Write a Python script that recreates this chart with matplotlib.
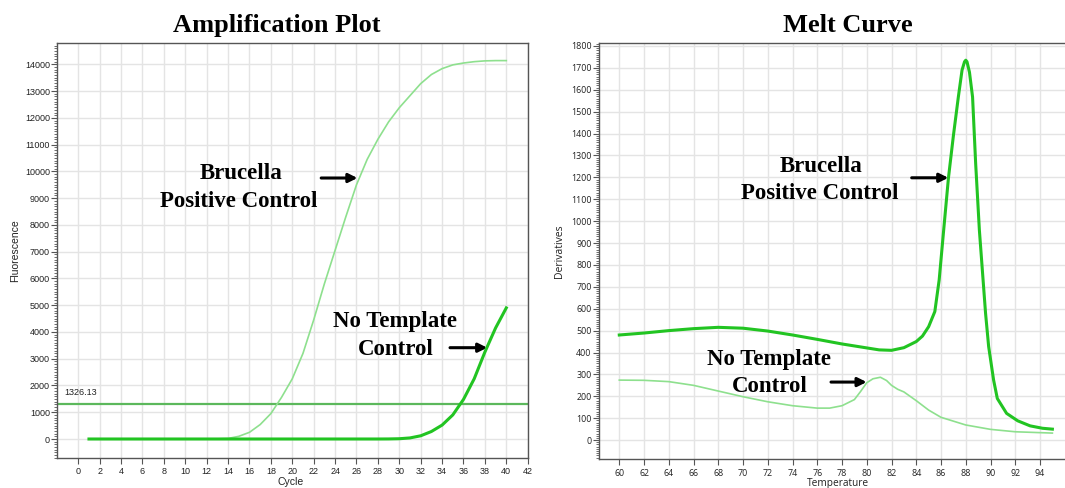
import matplotlib
matplotlib.use("Agg")
import matplotlib.pyplot as plt
from matplotlib.ticker import MultipleLocator

# ---------------- data ----------------
cycles = list(range(1, 41))
positive_amp = [0, 0, 0, 0, 0, 0, 0, 0, 0, 0, 0, 0, 5,
                20, 100, 250, 540, 950, 1560, 2250, 3200, 4450, 5800,
                7050, 8300, 9500, 10450, 11200, 11850, 12380, 12830, 13280,
                13620, 13840, 13980, 14050, 14100, 14130, 14140, 14140]
ntc_amp = [0, 0, 0, 0, 0, 0, 0, 0, 0, 0, 0, 0, 0, 0, 0, 0, 0, 0, 0, 0,
           0, 0, 0, 0, 0, 0, 0, 0, 2, 10, 40, 120, 280, 520, 900, 1480,
           2250, 3250, 4150, 4900]
threshold = 1326.13
threshold_label = "1326.13"

pos_melt_temp = [60, 62, 64, 66, 68, 70, 72, 74, 76, 78, 80, 81, 82, 83, 84,
                 84.5, 85, 85.5, 85.85, 86.2, 86.6, 87.0, 87.4, 87.7, 87.9,
                 88.0, 88.1, 88.3, 88.55, 88.8, 89.1, 89.4, 89.6, 89.85,
                 90.25, 90.55, 91.3, 92.2, 93.2, 94.2, 95.0]
pos_melt_val = [480, 489, 500, 509, 515, 511, 498, 480, 460, 439, 421, 412,
                410, 422, 450, 475, 518, 587, 731, 950, 1197, 1390, 1567,
                1690, 1728, 1735, 1728, 1680, 1567, 1263, 959, 731, 579,
                427, 274, 190, 122, 88, 65, 54, 50]
ntc_melt_temp = [60, 62, 64, 66, 68, 70, 72, 74, 76, 77, 78, 79, 79.5, 80,
                 80.5, 81.1, 81.6, 82, 82.5, 83, 83.5, 84, 85, 86, 88, 90,
                 92, 94, 95]
ntc_melt_val = [274, 273, 267, 250, 224, 198, 175, 157, 146, 146, 157, 185,
                222, 262, 280, 287, 272, 250, 232, 220, 200, 180, 137, 104,
                69, 49, 38, 34, 32]

amp_xticks = list(range(0, 43, 2))
melt_xticks = list(range(60, 95, 2))

# ---------------- style ----------------
C_THICK = "#22c422"
C_THIN = "#8ee08e"
C_THR = "#5cb85c"
GRID = "#e4e4e4"
SERIF = "Liberation Serif"

fig = plt.figure(figsize=(10.65, 4.88), dpi=100)
ax1 = fig.add_axes([57.3 / 1065, 1 - 458 / 488, (527.7 - 57.3) / 1065, (458 - 43) / 488])
ax2 = fig.add_axes([599 / 1065, 1 - 458.7 / 488, (1065 - 599) / 1065, (458.7 - 42.7) / 488])


def style(ax, fam, tsize):
    ax.grid(True, which="major", color=GRID, linewidth=1.0, zorder=0)
    ax.set_axisbelow(True)
    for s in ax.spines.values():
        s.set_color("#555555")
        s.set_linewidth(1.0)
    ax.tick_params(axis="both", which="major", direction="out", length=4.3,
                   width=0.8, color="#555555", labelsize=tsize,
                   labelcolor="#222222")
    ax.tick_params(axis="y", which="minor", direction="out", length=2.0,
                   width=0.6, color="#555555")
    ax.tick_params(axis="y", which="major", pad=1)
    ax.tick_params(axis="x", which="major", pad=2.5)
    for lab in ax.get_xticklabels() + ax.get_yticklabels():
        lab.set_family(fam)


# ---- Amplification plot ----
ax1.plot(cycles, positive_amp, color=C_THIN, lw=1.2, zorder=3)
ax1.plot(cycles, ntc_amp, color=C_THICK, lw=2.2, zorder=4)
ax1.axhline(threshold, color=C_THR, lw=1.6, zorder=2)
ax1.text(-1.3, threshold + 250, threshold_label, fontsize=6.5,
         family="Liberation Sans", color="#222222", va="bottom", ha="left")
ax1.set_xlim(-1.96, 41.92)
ax1.set_ylim(-710, 14798)
ax1.set_xticks(amp_xticks)
ax1.yaxis.set_major_locator(MultipleLocator(1000))
ax1.yaxis.set_minor_locator(MultipleLocator(100))
style(ax1, "Liberation Sans", 6.5)
ax1.set_xlabel("Cycle", fontsize=7.5, family="Liberation Sans", color="#222222")
ax1.set_ylabel("Fluorescence", fontsize=7.5, family="Liberation Sans", color="#222222")
ax1.xaxis.set_label_coords(0.495, -0.058)
ax1.xaxis.label.set_va("center")
ax1.yaxis.set_label_coords(-0.09, 0.5)
ax1.yaxis.label.set_va("center")
ax1.set_title("Amplification Plot", fontsize=19, family=SERIF,
              fontweight="bold", x=0.467, pad=8)

bold = dict(fontsize=16.5, family=SERIF, fontweight="bold", color="black",
            ha="center", va="center")
arrow = dict(arrowstyle="-|>", lw=2.2, color="black", mutation_scale=13,
             shrinkA=0, shrinkB=0)
ax1.text(15.24, 9940, "Brucella", **bold)
ax1.text(15.0, 8868, "Positive Control", **bold)
ax1.annotate("", xy=(26.09, 9753), xytext=(22.7, 9753), arrowprops=arrow)
ax1.text(29.64, 4383, "No Template", **bold)
ax1.text(29.64, 3363, "Control", **bold)
ax1.annotate("", xy=(38.22, 3412), xytext=(34.74, 3412), arrowprops=arrow)

# ---- Melt curve ----
ax2.plot(pos_melt_temp, pos_melt_val, color=C_THICK, lw=2.2, zorder=4)
ax2.plot(ntc_melt_temp, ntc_melt_val, color=C_THIN, lw=1.2, zorder=3)
ax2.set_xlim(58.36, 96.02)
ax2.set_ylim(-85, 1815)
ax2.set_xticks(melt_xticks)
ax2.yaxis.set_major_locator(MultipleLocator(100))
ax2.yaxis.set_minor_locator(MultipleLocator(10))
style(ax2, "Open Sans", 6.4)
ax2.spines["right"].set_visible(False)
ax2.tick_params(axis="x", which="major", pad=3.0)
ax2.set_xlabel("Temperature", fontsize=7.3, family="Open Sans", color="#222222")
ax2.set_ylabel("Derivatives", fontsize=7.5, family="Open Sans", color="#222222")
ax2.xaxis.set_label_coords(0.513, -0.060)
ax2.xaxis.label.set_va("center")
ax2.yaxis.set_label_coords(-0.085, 0.5)
ax2.yaxis.label.set_va("center")
ax2.set_title("Melt Curve", fontsize=19, family=SERIF,
              fontweight="bold", x=0.534, pad=8)

ax2.text(76.30, 1248, "Brucella", **bold)
ax2.text(76.18, 1128, "Positive Control", **bold)
ax2.annotate("", xy=(86.59, 1198), xytext=(83.63, 1198), arrowprops=arrow)
ax2.text(72.07, 370, "No Template", **bold)
ax2.text(72.14, 247, "Control", **bold)
ax2.annotate("", xy=(79.99, 265), xytext=(77.11, 265), arrowprops=arrow)

fig.savefig("out.png", dpi=100, facecolor="white")
